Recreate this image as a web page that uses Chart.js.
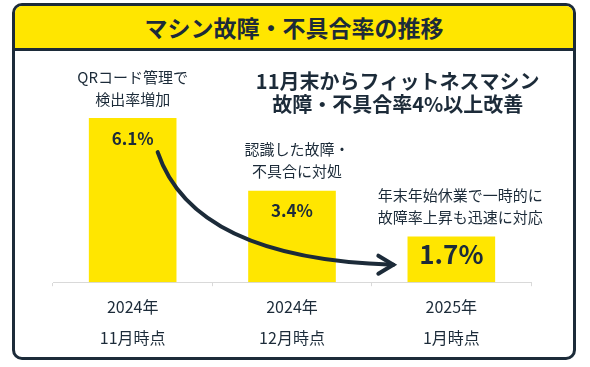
<!DOCTYPE html>
<html lang="ja">
<head>
<meta charset="utf-8">
<script src="https://cdn.jsdelivr.net/npm/chart.js@4.4.1/dist/chart.umd.min.js"></script>
<style>
    html, body { margin: 0; padding: 0; background: #fff; }
    body { width: 590px; height: 367px; position: relative; overflow: hidden;
           font-family: "Noto Sans CJK JP", "Noto Sans", sans-serif; }
    .frame { position: absolute; left: 12px; top: 3px; width: 558px; height: 351px;
             border: 3px solid #1c2b39; border-radius: 10px; overflow: hidden; }
    .title { height: 42px; background: #ffe600; border-bottom: 3px solid #1c2b39;
             text-align: center; line-height: 42px; font-size: 23px; font-weight: bold;
             color: #1c2b39; }
    canvas { position: absolute; left: 0; top: 0; }
</style>
</head>
<body>
<div class="frame"><div class="title">マシン故障・不具合率の推移</div></div>
<canvas id="chart" width="590" height="367"></canvas>
<script>
// Data
const categories = [['2024年', '11月時点'], ['2024年', '12月時点'], ['2025年', '1月時点']];
const rates = [6.1, 3.4, 1.7];
const rateLabels = ['6.1%', '3.4%', '1.7%'];
const notes = [
    ['QRコード管理で', '検出率増加'],
    ['認識した故障・', '不具合に対処'],
    ['年末年始休業で一時的に', '故障率上昇も迅速に対応']
];
const headline = ['11月末からフィットネスマシン', '故障・不具合率4%以上改善'];

const dark = '#1c2b39';
const yellow = '#ffe600';
const jp = '"Noto Sans CJK JP", "Noto Sans", sans-serif';

// Labels, notes and the arrow, placed from the scales
const overlay = {
    id: 'overlay',
    afterDatasetsDraw(chart) {
        const ctx = chart.ctx;
        const x = chart.scales.x, y = chart.scales.y;
        const noteShift = [0, 5, 9];
        ctx.save();
        ctx.fillStyle = dark;
        ctx.textAlign = 'center';
        ctx.textBaseline = 'middle';

        rates.forEach((v, i) => {
            const cx = x.getPixelForValue(i);
            const top = y.getPixelForValue(v);
            const big = i === rates.length - 1;
            ctx.font = 'bold ' + (big ? 26 : 17) + 'px ' + jp;
            ctx.fillText(rateLabels[i], cx, top + (big ? 18 : 20));
            ctx.font = '15px ' + jp;
            ctx.fillText(notes[i][0], cx + noteShift[i], top - 41);
            ctx.fillText(notes[i][1], cx + noteShift[i], top - 19);
        });

        // headline
        ctx.font = 'bold 20px ' + jp;
        const hx = (x.getPixelForValue(1) + x.getPixelForValue(2)) / 2 + 26;
        ctx.fillText(headline[0], hx, 81);
        ctx.fillText(headline[1], hx, 104);

        // arrow
        const sx = x.getPixelForValue(0) + 25, sy = y.getPixelForValue(rates[0]) + 34;
        const ex = x.getPixelForValue(2) - 58, ey = y.getPixelForValue(0.65);
        ctx.strokeStyle = dark;
        ctx.lineWidth = 4;
        ctx.lineCap = 'round';
        ctx.beginPath();
        ctx.moveTo(sx, sy);
        ctx.quadraticCurveTo(sx + 36, ey - 6, ex, ey);
        ctx.stroke();
        ctx.lineJoin = 'miter';
        ctx.beginPath();
        ctx.moveTo(ex - 15, ey - 9);
        ctx.lineTo(ex, ey);
        ctx.lineTo(ex - 15, ey + 9);
        ctx.stroke();
        ctx.restore();
    }
};

new Chart(document.getElementById('chart').getContext('2d'), {
    type: 'bar',
    data: {
        labels: categories,
        datasets: [{
            data: rates,
            backgroundColor: yellow,
            borderWidth: 0,
            barPercentage: 0.55,
            categoryPercentage: 1
        }]
    },
    options: {
        responsive: false,
        animation: false,
        layout: { padding: { left: 53, right: 59, top: 67, bottom: 8 } },
        plugins: { legend: { display: false }, tooltip: { enabled: false } },
        scales: {
            y: { display: false, min: 0, max: 8 },
            x: {
                grid: { offset: true, drawOnChartArea: false, drawTicks: true, tickLength: 4, color: '#d9d9d9' },
                border: { color: '#d9d9d9' },
                ticks: {
                    color: dark,
                    padding: 6,
                    font: { family: jp, size: 16, lineHeight: 1.9 }
                }
            }
        }
    },
    plugins: [overlay]
});
</script>
</body>
</html>
